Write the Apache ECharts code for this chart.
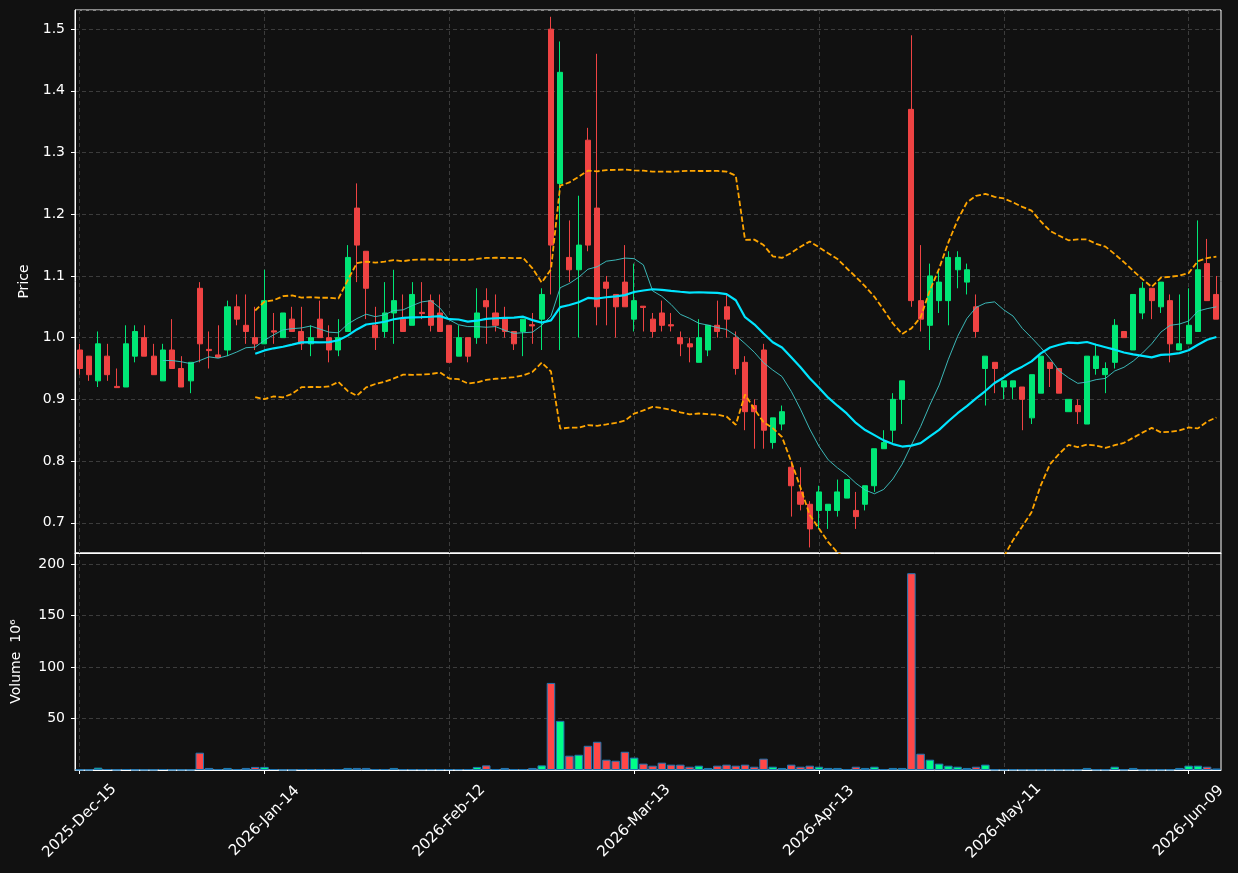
<!DOCTYPE html>
<html>
<head>
<meta charset="utf-8">
<script src="https://cdn.jsdelivr.net/npm/echarts@6/dist/echarts.min.js"></script>
<style>
html, body { margin: 0; padding: 0; background: #111111; }
#main { width: 1238px; height: 873px; }
</style>
</head>
<body>
<div id="main"></div>
<script>
// trading calendar (NYSE days, holidays skipped)
var startDate = '2025-12-15';
var dayCount = 124;
var holidays = ['2025-12-25', '2026-01-01', '2026-01-19', '2026-02-16', '2026-04-03', '2026-05-25'];
var monthNames = ['Jan', 'Feb', 'Mar', 'Apr', 'May', 'Jun', 'Jul', 'Aug', 'Sep', 'Oct', 'Nov', 'Dec'];
var labelEvery = 20;

var opens = [
  0.98, 0.97, 0.93, 0.97, 0.921, 0.92, 0.97, 1.00, 0.97, 0.93,
  0.98, 0.95, 0.93, 1.08, 0.981, 0.972, 0.98, 1.05, 1.02, 1.00,
  0.99, 1.011, 1.00, 1.03, 1.01, 0.99, 1.03, 1.00, 0.98, 1.01,
  1.21, 1.14, 1.02, 1.01, 1.04, 1.03, 1.02, 1.041, 1.06, 1.04,
  1.02, 0.97, 1.00, 1.00, 1.06, 1.04, 1.03, 1.01, 1.01, 1.021,
  1.03, 1.50, 1.25, 1.13, 1.11, 1.32, 1.21, 1.09, 1.07, 1.09,
  1.03, 1.051, 1.03, 1.04, 1.021, 1.00, 0.99, 0.96, 0.98, 1.02,
  1.05, 1.00, 0.96, 0.89, 0.98, 0.83, 0.86, 0.79, 0.75, 0.73,
  0.72, 0.72, 0.72, 0.74, 0.72, 0.73, 0.76, 0.82, 0.85, 0.90,
  1.37, 1.06, 1.02, 1.06, 1.06, 1.11, 1.09, 1.05, 0.95, 0.96,
  0.92, 0.92, 0.92, 0.87, 0.91, 0.96, 0.95, 0.88, 0.89, 0.86,
  0.95, 0.94, 0.96, 1.01, 0.98, 1.04, 1.08, 1.05, 1.06, 0.98,
  0.99, 1.01, 1.12, 1.07
];
var closes = [
  0.95, 0.94, 0.99, 0.94, 0.919, 0.99, 1.01, 0.97, 0.94, 0.98,
  0.95, 0.92, 0.96, 0.99, 0.979, 0.968, 1.05, 1.03, 1.01, 0.99,
  1.06, 1.009, 1.04, 1.01, 0.99, 1.00, 1.00, 0.98, 1.00, 1.13,
  1.15, 1.08, 1.00, 1.04, 1.06, 1.01, 1.07, 1.039, 1.02, 1.01,
  0.96, 1.00, 0.97, 1.04, 1.05, 1.02, 1.01, 0.99, 1.03, 1.019,
  1.07, 1.15, 1.43, 1.11, 1.15, 1.15, 1.05, 1.08, 1.05, 1.05,
  1.06, 1.049, 1.01, 1.02, 1.019, 0.99, 0.985, 1.00, 1.02, 1.01,
  1.03, 0.95, 0.88, 0.88, 0.85, 0.87, 0.88, 0.76, 0.73, 0.69,
  0.75, 0.73, 0.75, 0.77, 0.71, 0.76, 0.82, 0.83, 0.90, 0.93,
  1.06, 1.03, 1.10, 1.09, 1.13, 1.13, 1.11, 1.01, 0.97, 0.95,
  0.93, 0.93, 0.90, 0.94, 0.97, 0.95, 0.91, 0.90, 0.88, 0.97,
  0.97, 0.95, 1.02, 1.00, 1.07, 1.08, 1.06, 1.09, 0.99, 0.99,
  1.02, 1.11, 1.06, 1.03
];
var lows = [
  0.94, 0.93, 0.92, 0.93, 0.919, 0.92, 0.96, 0.97, 0.94, 0.93,
  0.95, 0.92, 0.91, 0.96, 0.95, 0.968, 0.97, 1.02, 0.99, 0.98,
  0.99, 0.99, 1.00, 1.01, 0.98, 0.97, 1.00, 0.96, 0.97, 1.01,
  1.09, 1.03, 0.98, 1.00, 0.99, 1.01, 1.02, 1.03, 1.01, 1.01,
  0.96, 0.97, 0.96, 0.99, 0.99, 1.01, 1.00, 0.98, 0.97, 0.99,
  0.98, 1.07, 0.98, 1.09, 1.00, 1.14, 1.02, 1.02, 1.00, 1.05,
  1.01, 1.01, 1.00, 1.01, 1.01, 0.97, 0.96, 0.96, 0.97, 1.00,
  1.00, 0.94, 0.85, 0.82, 0.82, 0.82, 0.85, 0.71, 0.72, 0.66,
  0.69, 0.69, 0.71, 0.74, 0.69, 0.72, 0.75, 0.82, 0.83, 0.86,
  1.05, 1.01, 0.98, 1.04, 1.02, 1.08, 1.07, 1.00, 0.89, 0.91,
  0.90, 0.90, 0.85, 0.86, 0.91, 0.92, 0.91, 0.88, 0.86, 0.86,
  0.94, 0.91, 0.95, 1.00, 0.98, 1.03, 1.03, 1.04, 0.96, 0.98,
  0.99, 1.01, 1.06, 1.03
];
var highs = [
  0.99, 0.97, 1.01, 0.99, 0.95, 1.02, 1.02, 1.02, 0.99, 0.99,
  1.03, 0.97, 0.96, 1.09, 1.01, 1.02, 1.06, 1.07, 1.07, 1.05,
  1.11, 1.04, 1.04, 1.05, 1.05, 1.02, 1.06, 1.02, 1.03, 1.15,
  1.25, 1.14, 1.05, 1.09, 1.11, 1.07, 1.09, 1.09, 1.07, 1.07,
  1.02, 1.02, 1.00, 1.08, 1.08, 1.07, 1.05, 1.01, 1.03, 1.04,
  1.08, 1.52, 1.48, 1.19, 1.23, 1.34, 1.46, 1.10, 1.07, 1.15,
  1.12, 1.05, 1.04, 1.06, 1.04, 1.01, 1.00, 1.03, 1.02, 1.06,
  1.07, 1.01, 0.97, 0.90, 0.99, 0.87, 0.89, 0.80, 0.79, 0.735,
  0.76, 0.73, 0.77, 0.77, 0.75, 0.76, 0.82, 0.85, 0.91, 0.93,
  1.49, 1.15, 1.12, 1.11, 1.14, 1.14, 1.12, 1.07, 0.97, 0.96,
  0.93, 0.93, 0.92, 0.94, 0.97, 0.96, 0.95, 0.90, 0.90, 0.97,
  0.99, 0.96, 1.03, 1.01, 1.07, 1.09, 1.08, 1.09, 1.07, 1.07,
  1.08, 1.19, 1.16, 1.10
];
// volume in millions
var volumes = [
  0.3, 0.3, 2.3, 1, 0.3, 1, 0.3, 0.3, 0.3, 1,
  0.3, 0.3, 0.3, 16.8, 2, 1, 2, 1, 2, 3,
  3, 1, 0.3, 0.3, 1, 1, 1, 1, 1, 2,
  2, 2, 1, 1, 2, 0.8, 0.8, 0.8, 0.8, 0.8,
  0.8, 0.8, 1, 3, 4.5, 1, 2, 1, 1, 2,
  4.5, 84.5, 47.7, 13.9, 14.8, 23.5, 27.4, 10, 9, 17.7,
  12, 6.2, 4.2, 7.1, 5.2, 5.2, 3.2, 4.2, 2, 4.2,
  5.2, 4.2, 5.2, 3.2, 11, 3.2, 2, 5.2, 3.2, 4.2,
  3.2, 2, 2, 1, 3.2, 2, 3.2, 1, 2, 2,
  191, 15.8, 10, 6.2, 4.2, 3.2, 2, 3.2, 5.2, 0.5,
  0.5, 0.5, 0.5, 0.5, 0.5, 0.5, 0.5, 0.5, 0.5, 2,
  0.5, 0.5, 3.2, 0.5, 2, 0.5, 0.5, 0.5, 0.5, 2,
  4.2, 4.2, 3.2, 1.5
];

var upColor = '#00e676';
var downColor = '#ef4343';
var volUp = '#00ff88';
var volDown = '#ff4747';

function tradingDays(start, count, skip) {
  var out = [];
  var d = new Date(start + 'T00:00:00Z');
  while (out.length < count) {
    var iso = d.toISOString().slice(0, 10);
    var wd = d.getUTCDay();
    if (wd !== 0 && wd !== 6 && skip.indexOf(iso) < 0) {
      out.push(d.getUTCFullYear() + '-' + monthNames[d.getUTCMonth()] + '-' + ('0' + d.getUTCDate()).slice(-2));
    }
    d.setUTCDate(d.getUTCDate() + 1);
  }
  return out;
}

function sma(arr, n) {
  return arr.map(function (v, i) {
    if (i < n - 1) return '-';
    var s = 0;
    for (var k = i - n + 1; k <= i; k++) s += arr[k];
    return s / n;
  });
}

// bollinger band, sample std
function bollinger(arr, n, mult, sign) {
  var mid = sma(arr, n);
  return arr.map(function (v, i) {
    if (i < n - 1) return '-';
    var ss = 0;
    for (var k = i - n + 1; k <= i; k++) ss += Math.pow(arr[k] - mid[i], 2);
    return mid[i] + sign * mult * Math.sqrt(ss / (n - 1));
  });
}

var dates = tradingDays(startDate, dayCount, holidays);
var candles = dates.map(function (d, i) { return [opens[i], closes[i], lows[i], highs[i]]; });
var volBars = volumes.map(function (v, i) {
  return { value: v, itemStyle: { color: closes[i] >= opens[i] ? volUp : volDown } };
});

var showTick = function (idx) { return idx % labelEvery === 0; };
var txt = { color: '#ffffff', fontSize: 14, fontFamily: 'DejaVu Sans' };
var gridLine = { show: true, lineStyle: { color: '#3c3c3c', type: [4, 3], width: 1 } };

var myChart = echarts.init(document.getElementById('main'));
var option = {
  backgroundColor: '#111111',
  animation: false,
  grid: [
    { left: 75, top: 10, width: 1146, height: 543, show: true, borderColor: '#ffffff', borderWidth: 1 },
    { left: 75, top: 553, width: 1146, height: 217, show: true, borderColor: '#ffffff', borderWidth: 1 }
  ],
  xAxis: [
    {
      type: 'category', gridIndex: 0, data: dates, boundaryGap: true,
      axisLine: { lineStyle: { color: '#ffffff' } },
      axisTick: { show: false },
      axisLabel: { show: false },
      splitLine: { show: true, interval: showTick, alignWithLabel: true, lineStyle: gridLine.lineStyle }
    },
    {
      type: 'category', gridIndex: 1, data: dates, boundaryGap: true,
      axisLine: { lineStyle: { color: '#ffffff' } },
      axisTick: { show: true, interval: showTick, alignWithLabel: true, length: 4, lineStyle: { color: '#ffffff' } },
      axisLabel: {
        interval: showTick, rotate: 45, align: 'center', verticalAlign: 'middle', margin: 51,
        color: txt.color, fontSize: 15, fontFamily: txt.fontFamily
      },
      splitLine: { show: true, interval: showTick, alignWithLabel: true, lineStyle: gridLine.lineStyle }
    }
  ],
  yAxis: [
    {
      type: 'value', gridIndex: 0, min: 0.651, max: 1.531, splitNumber: 8,
      name: 'Price', nameLocation: 'middle', nameGap: 44, nameTextStyle: txt,
      axisLine: { show: true, lineStyle: { color: '#ffffff' } },
      axisTick: { show: true, length: 4, lineStyle: { color: '#ffffff' } },
      axisLabel: {
        color: txt.color, fontSize: 14, fontFamily: txt.fontFamily, margin: 10,
        showMinLabel: false, showMaxLabel: false,
        formatter: function (v) { return v.toFixed(1); }
      },
      splitLine: gridLine
    },
    {
      type: 'value', gridIndex: 1, min: 0, max: 210.6, splitNumber: 4,
      name: 'Volume  10\u2076', nameLocation: 'middle', nameGap: 52, nameTextStyle: txt,
      axisLine: { show: true, lineStyle: { color: '#ffffff' } },
      axisTick: { show: true, length: 4, lineStyle: { color: '#ffffff' } },
      axisLabel: {
        color: txt.color, fontSize: 14, fontFamily: txt.fontFamily, margin: 10,
        showMinLabel: false, showMaxLabel: false
      },
      splitLine: gridLine
    }
  ],
  series: [
    {
      name: 'OHLC', type: 'candlestick', xAxisIndex: 0, yAxisIndex: 0,
      data: candles, barWidth: '60%',
      itemStyle: { color: upColor, color0: downColor, borderColor: upColor, borderColor0: downColor, borderWidth: 1 }
    },
    {
      name: 'MA10', type: 'line', xAxisIndex: 0, yAxisIndex: 0, data: sma(closes, 10),
      showSymbol: false, z: 3, lineStyle: { color: '#3fc8c8', width: 1, opacity: 0.9 }
    },
    {
      name: 'MA20', type: 'line', xAxisIndex: 0, yAxisIndex: 0, data: sma(closes, 20),
      showSymbol: false, z: 3, lineStyle: { color: '#00e5ff', width: 2.2 }
    },
    {
      name: 'BB upper', type: 'line', xAxisIndex: 0, yAxisIndex: 0, data: bollinger(closes, 20, 2, 1),
      showSymbol: false, z: 3, lineStyle: { color: '#ffa500', width: 1.8, type: [5.5, 2.5] }
    },
    {
      name: 'BB lower', type: 'line', xAxisIndex: 0, yAxisIndex: 0, data: bollinger(closes, 20, 2, -1),
      showSymbol: false, z: 3, lineStyle: { color: '#ffa500', width: 1.8, type: [5.5, 2.5] }
    },
    {
      name: 'Volume', type: 'bar', xAxisIndex: 1, yAxisIndex: 1, data: volBars,
      barWidth: '92%', itemStyle: { borderColor: '#1f77b4', borderWidth: 1 }
    }
  ]
};
myChart.setOption(option);
</script>
</body>
</html>
